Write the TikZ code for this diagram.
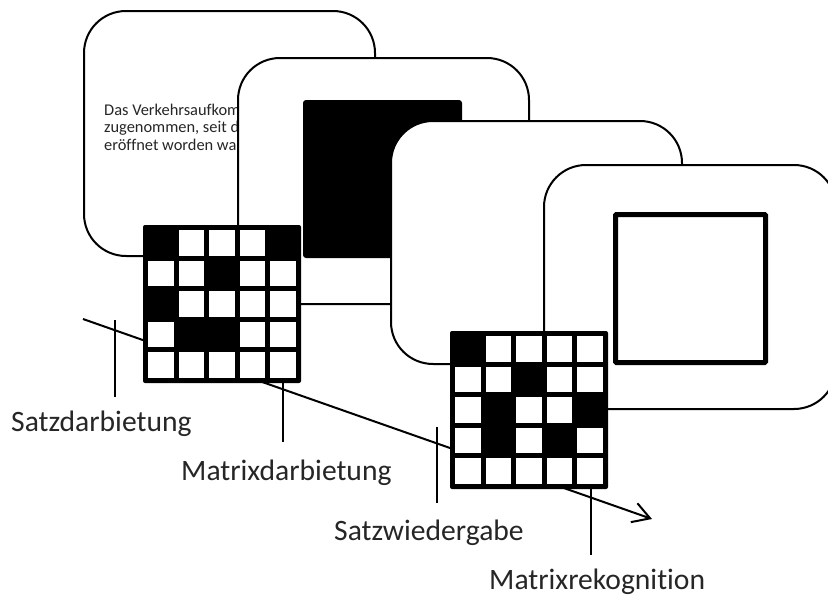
\documentclass[tikz,border=0pt]{standalone}
\usepackage{fontspec}
\setmainfont[Ligatures=NoCommon]{Carlito}
\usetikzlibrary{arrows.meta}

\tikzset{
  card/.style={draw=black, line width=2pt, fill=white, rounded corners=42pt},
  tickline/.style={draw=black, line width=2pt},
  timeline/.style={draw=black, line width=2pt,
    -{Straight Barb[length=17pt,width=20pt,line width=2pt]}},
  phase/.style={font=\fontsize{29.6}{34}\selectfont, text=black!85,
    inner sep=0pt, anchor=base west},
  cardtext/.style={font=\fontsize{16.4}{18}\selectfont, text=black!85,
    inner sep=0pt, anchor=base west},
}

% 5x5 pixel matrix: #1 name, #2/#3 top-left corner, #4 black cells as col/row
\newcommand{\pixelmatrix}[4]{%
  \coordinate (#1) at (#2+79,#3+79);
  \fill[black, rounded corners=2pt] (#2,#3) rectangle ++(158,158);
  \foreach \rr in {0,...,4}{
    \foreach \cc in {0,...,4}{
      \fill[white] (#2+5+\cc*30.6,#3+5+\rr*30.6) rectangle ++(25.6,25.6);
    }
  }
  \foreach \cc/\rr in {#4}{
    \fill[black] (#2+5+\cc*30.6,#3+5+\rr*30.6) rectangle ++(25.6,25.6);
  }
}

\begin{document}
\begin{tikzpicture}[x=1pt, y=-1pt]
\clip (0,0) rectangle (828,597);
\fill[white] (0,0) rectangle (828,597);

% first screen: sentence
\draw[card] (84,11) rectangle (375,256);
\node[cardtext] (s1) at (104,115) {Das Verkehrsaufkommen};
\node[cardtext] (s2) at (104,132.5) {zugenommen, seit die};
\node[cardtext] (s3) at (104,150) {eröffnet worden war};

% second screen: blank mask
\draw[card] (238,58) rectangle (529,304);
\fill[black, rounded corners=3pt] (303,100) rectangle (462,258);

% third screen: empty
\draw[card] (391,121) rectangle (682,364);

% fourth screen: empty frame
\draw[card] (544,165) rectangle (836,409);
\draw[line width=5pt, rounded corners=1pt] (615.5,214.5) rectangle (765.5,362.5);

% time axis
\coordinate (tstart) at (83,319);
\coordinate (tend) at (652,519);
\draw[timeline] (tstart) -- (tend);

% event ticks
\coordinate (a1) at (115,320);  \coordinate (b1) at (115,397);
\coordinate (a2) at (283,370);  \coordinate (b2) at (283,442);
\coordinate (a3) at (437,427);  \coordinate (b3) at (437,503);
\coordinate (a4) at (591,480);  \coordinate (b4) at (591,555);
\draw[tickline] (a1) -- (b1);
\draw[tickline] (a2) -- (b2);
\draw[tickline] (a3) -- (b3);
\draw[tickline] (a4) -- (b4);

% matrices
\pixelmatrix{m1}{143}{225}{0/0,4/0,2/1,0/2,1/3,2/3}
\pixelmatrix{m2}{450}{331}{0/0,2/1,1/2,4/2,1/3,3/3}

% phase labels
\node[phase] (l1) at (11,431) {Satzdarbietung};
\node[phase] (l2) at (181,480) {Matrixdarbietung};
\node[phase] (l3) at (334,540) {Satzwiedergabe};
\node[phase] (l4) at (489,589) {Matrixrekognition};
\end{tikzpicture}
\end{document}
